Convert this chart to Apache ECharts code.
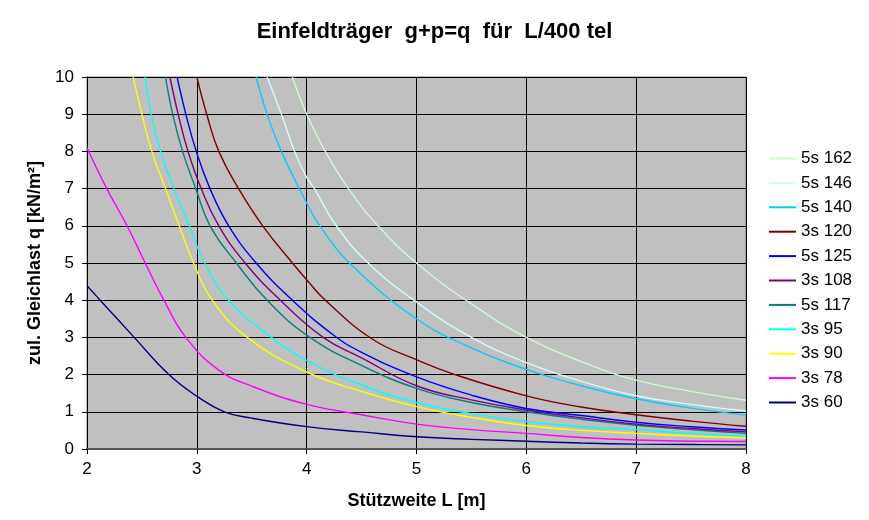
<!DOCTYPE html>
<html>
<head>
<meta charset="utf-8">
<script src="https://cdn.jsdelivr.net/npm/echarts@6/dist/echarts.min.js"></script>
<style>
  html, body { margin: 0; padding: 0; background: #ffffff; }
  #chart { width: 869px; height: 520px; }
</style>
</head>
<body>
<div id="chart"></div>
<script>
// Permissible uniform load q [kN/m²] over span L [m] for a single-span beam, deflection limit L/400
const titleText = 'Einfeldträger  g+p=q  für  L/400 tel';
const xAxisTitle = 'Stützweite L [m]';
const yAxisTitle = 'zul. Gleichlast q [kN/m²]';
const xTicks = [2, 3, 4, 5, 6, 7, 8];
const yTicks = [0, 1, 2, 3, 4, 5, 6, 7, 8, 9, 10];

// Series names in legend order
const seriesNames = ['5s 162', '5s 146', '5s 140', '3s 120', '5s 125', '3s 108', '5s 117', '3s 95', '3s 90', '3s 78', '3s 60'];

// [L, q] pairs per profile
const q5s162 = [[3.87,10],[4.0,9],[4.17,8],[4.38,7],[4.65,6],[5.0,5.0],[5.5,3.9],[6.0,3.0],[6.5,2.35],[7.0,1.85],[7.5,1.55],[8.0,1.31]];
const q5s146 = [[3.64,10],[3.77,9],[3.89,8],[4.0,7.3],[4.07,7],[4.27,6],[4.56,5],[5.0,3.95],[5.5,3.0],[6.0,2.32],[6.5,1.82],[7.0,1.43],[7.5,1.2],[8.0,1.02]];
const q5s140 = [[3.54,10],[3.64,9],[3.77,8],[4.0,6.61],[4.12,6],[4.39,5],[5.0,3.5],[5.5,2.72],[6.0,2.14],[6.5,1.7],[7.0,1.35],[7.5,1.1],[8.0,0.91]];
const q3s120 = [[3.0,10],[3.09,9],[3.2,8],[3.38,7],[3.6,6],[3.87,5],[4.0,4.55],[4.17,4],[4.6,2.95],[5.0,2.4],[5.35,2.0],[6.0,1.43],[6.5,1.13],[7.0,0.92],[7.5,0.75],[8.0,0.61]];
const q5s125 = [[2.82,10],[2.9,9],[2.995,8],[3.12,7],[3.29,6],[3.54,5],[3.87,4],[4.25,3.05],[4.5,2.6],[5.0,1.94],[5.5,1.45],[6.0,1.09],[6.5,0.9],[7.0,0.72],[7.5,0.6],[8.0,0.51]];
const q3s108 = [[2.755,10],[2.83,9],[2.92,8],[3.04,7],[3.2,6],[3.44,5],[3.76,4],[4.15,3],[4.5,2.45],[5.0,1.7],[5.5,1.32],[6.0,1.05],[6.5,0.84],[7.0,0.67],[7.5,0.55],[8.0,0.46]];
const q5s117 = [[2.715,10],[2.78,9],[2.87,8],[2.99,7],[3.12,6],[3.36,5],[3.64,4],[4.03,3],[4.5,2.25],[5.0,1.63],[5.5,1.25],[6.0,1.0],[6.5,0.8],[7.0,0.64],[7.5,0.52],[8.0,0.42]];
const q3s95 = [[2.53,10],[2.585,9],[2.67,8],[2.79,7],[2.93,6],[3.07,5.0],[3.29,4],[3.68,3],[4.0,2.38],[4.5,1.72],[5.0,1.25],[5.5,0.95],[6.0,0.74],[6.5,0.6],[7.0,0.52],[7.5,0.42],[8.0,0.35]];
const q3s90 = [[2.42,10],[2.5,9],[2.59,8],[2.715,7],[2.84,6],[2.97,5],[3.14,4],[3.46,3],[4.0,2.07],[4.5,1.55],[5.0,1.14],[5.5,0.85],[6.0,0.63],[6.5,0.5],[7.0,0.42],[7.5,0.35],[8.0,0.3]];
const q3s78 = [[2.0,8.1],[2.18,7],[2.365,6],[2.53,5],[2.7,4],[2.9,3],[3.2,2.12],[3.5,1.69],[4.0,1.2],[4.5,0.92],[5.0,0.67],[5.5,0.52],[6.0,0.42],[6.5,0.31],[7.0,0.24],[7.5,0.21],[8.0,0.2]];
const q3s60 = [[2.0,4.39],[2.12,4],[2.43,3],[2.745,2],[3.0,1.42],[3.25,1.0],[3.5,0.83],[4.0,0.6],[4.5,0.46],[5.0,0.33],[5.5,0.26],[6.0,0.21],[6.5,0.16],[7.0,0.13],[7.5,0.12],[8.0,0.11]];

const seriesData = [q5s162, q5s146, q5s140, q3s120, q5s125, q3s108, q5s117, q3s95, q3s90, q3s78, q3s60];
const seriesColors = ['#ccffcc', '#ccffff', '#00ccff', '#800000', '#0000ff', '#800080', '#008080', '#00ffff', '#ffff00', '#ff00ff', '#000080'];

const FONT = '"Liberation Sans", Arial, sans-serif';

const chart = echarts.init(document.getElementById('chart'), null, { renderer: 'canvas' });

chart.setOption({
  backgroundColor: '#ffffff',
  animation: false,
  title: {
    text: titleText,
    left: 'center',
    top: 16,
    textStyle: { fontFamily: FONT, fontSize: 22, fontWeight: 'bold', color: '#000' }
  },
  legend: {
    orient: 'vertical',
    left: 769,
    top: 150,
    padding: 0,
    itemWidth: 27,
    itemHeight: 14,
    itemGap: 7.4,
    icon: 'path://M0,6 L27,6 L27,8 L0,8 Z',
    textStyle: { fontFamily: FONT, fontSize: 17, color: '#000' },
    data: seriesNames
  },
  grid: {
    left: 87, right: 123, top: 77, bottom: 71,
    show: true,
    backgroundColor: '#c0c0c0',
    borderColor: '#808080',
    borderWidth: 1,
    containLabel: false
  },
  xAxis: {
    type: 'value',
    min: xTicks[0],
    max: xTicks[xTicks.length - 1],
    interval: 1,
    name: xAxisTitle,
    nameLocation: 'middle',
    nameGap: 43,
    nameTextStyle: { fontFamily: FONT, fontSize: 18, fontWeight: 'bold', color: '#000' },
    axisLine: { show: true, onZero: false, lineStyle: { color: '#555555', width: 2 } },
    axisTick: { show: true, inside: false, length: 5, lineStyle: { color: '#000' } },
    axisLabel: { fontFamily: FONT, fontSize: 17, color: '#000', margin: 12 },
    splitLine: { show: true, lineStyle: { color: '#000000', width: 1 } }
  },
  yAxis: {
    type: 'value',
    min: yTicks[0],
    max: yTicks[yTicks.length - 1],
    interval: 1,
    name: yAxisTitle,
    nameLocation: 'middle',
    nameRotate: 90,
    nameGap: 39,
    nameTextStyle: { fontFamily: FONT, fontSize: 18, fontWeight: 'bold', color: '#000' },
    axisLine: { show: true, onZero: false, lineStyle: { color: '#000', width: 1 } },
    axisTick: { show: true, inside: false, length: 5, lineStyle: { color: '#000' } },
    axisLabel: { fontFamily: FONT, fontSize: 17, color: '#000', margin: 13 },
    splitLine: { show: true, lineStyle: { color: '#000000', width: 1 } }
  },
  series: seriesNames.map((name, i) => ({
    name: name,
    type: 'line',
    data: seriesData[i],
    symbol: 'none',
    smooth: 0.45,
    clip: true,
    color: seriesColors[i],
    lineStyle: { color: seriesColors[i], width: 1.4 },
    z: 10 - i
  }))
});
</script>
</body>
</html>
